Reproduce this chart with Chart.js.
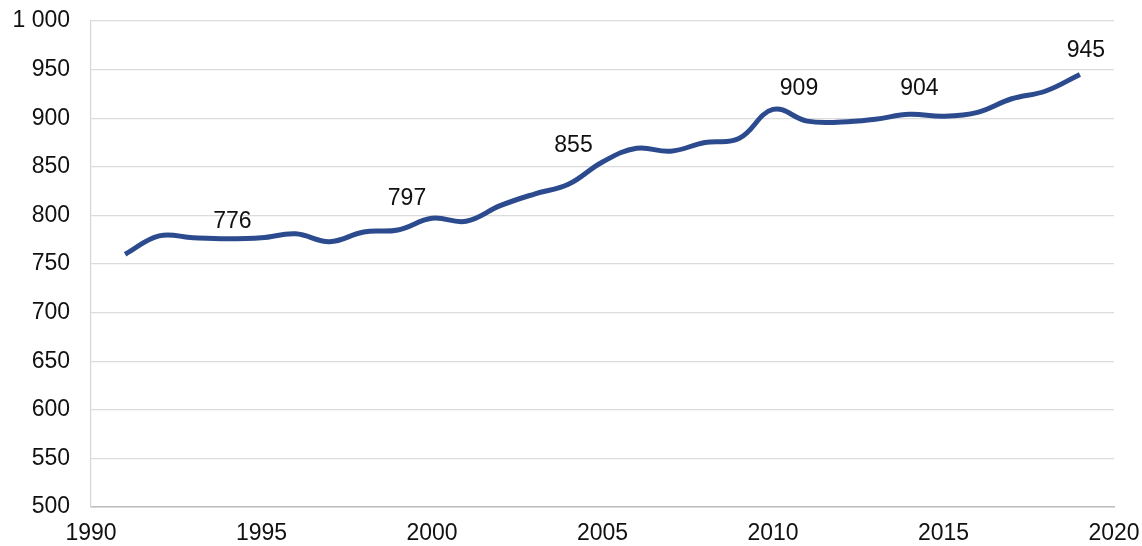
<!DOCTYPE html>
<html>
<head>
<meta charset="utf-8">
<script src="https://cdn.jsdelivr.net/npm/chart.js@4"></script>
<style>
  html, body { margin: 0; padding: 0; background: #ffffff; }
  #wrap { width: 1142px; height: 546px; position: relative; }
</style>
</head>
<body>
<div id="wrap"><canvas id="c"></canvas></div>
<script>
// Data
const years = [1991, 1992, 1993, 1994, 1995, 1996, 1997, 1998, 1999, 2000,
               2001, 2002, 2003, 2004, 2005, 2006, 2007, 2008, 2009, 2010,
               2011, 2012, 2013, 2014, 2015, 2016, 2017, 2018, 2019];
const values = [760, 779, 777, 776, 777, 781, 773, 783, 785, 797,
                794, 810, 822, 832, 855, 869, 866, 875, 879, 909,
                897, 896, 899, 904, 902, 906, 920, 928, 945];
const labelledYears = [1994, 2000, 2005, 2010, 2014, 2019];
const xTicks = [1990, 1995, 2000, 2005, 2010, 2015, 2020];
const yTicks = [500, 550, 600, 650, 700, 750, 800, 850, 900, 950, 1000];

const points = years.map((y, i) => ({ x: y, y: values[i] }));

function fmtThousands(v) {
  const s = String(Math.round(v));
  return s.replace(/\B(?=(\d{3})+(?!\d))/g, ' ');
}

const FONT = "'Liberation Sans', Arial, sans-serif";

const valueLabels = {
  id: 'valueLabels',
  afterDatasetsDraw(chart, args, opts) {
    const ctx = chart.ctx;
    const meta = chart.getDatasetMeta(0);
    ctx.save();
    ctx.font = '23px ' + FONT;
    ctx.fillStyle = '#111111';
    ctx.textAlign = 'center';
    ctx.textBaseline = 'alphabetic';
    labelledYears.forEach((yr) => {
      const idx = years.indexOf(yr);
      const el = meta.data[idx];
      const dx = (opts.dx && opts.dx[yr]) || 0;
      const dy = (opts.dy && opts.dy[yr]) || -12;
      ctx.fillText(String(values[idx]), el.x + dx, el.y + dy);
    });
    ctx.restore();
  }
};

new Chart(document.getElementById('c'), {
  type: 'line',
  data: {
    datasets: [{
      data: points,
      borderColor: '#2c4b8e',
      borderWidth: 5,
      pointRadius: 0,
      tension: 0.4,
      fill: false
    }]
  },
  options: {
    responsive: true,
    maintainAspectRatio: false,
    animation: false,
    layout: { padding: { left: 0, right: 28, top: 21, bottom: 0 } },
    plugins: {
      legend: { display: false },
      tooltip: { enabled: false },
      valueLabels: {
        dx: { 1994: 5, 2000: -25, 2005: -29, 2010: 26, 2014: 10, 2019: 6 },
        dy: { 1994: -11, 2000: -13, 2005: -10, 2010: -14, 2014: -19, 2019: -17 }
      }
    },
    scales: {
      x: {
        type: 'linear',
        min: 1990,
        max: 2020,
        afterBuildTicks: (s) => { s.ticks = xTicks.map(v => ({ value: v })); },
        ticks: {
          callback: (v) => String(v),
          color: '#111111',
          font: { family: FONT, size: 23 },
          padding: 13,
          maxRotation: 0
        },
        grid: { display: false, drawTicks: false },
        border: { display: true, color: '#bdbdbd', width: 1.5 },
        afterFit: (s) => { s.height = 39; s.paddingLeft = 0; s.paddingRight = 0; }
      },
      y: {
        min: 500,
        max: 1000,
        afterBuildTicks: (s) => { s.ticks = yTicks.map(v => ({ value: v })); },
        ticks: {
          callback: (v) => fmtThousands(v),
          color: '#111111',
          font: { family: FONT, size: 23 },
          padding: 21
        },
        grid: { color: '#dcdcdc', lineWidth: 1.2, drawTicks: false },
        border: { display: true, color: '#d6d6d6', width: 1.2 },
        afterFit: (s) => { s.width = 91; s.paddingTop = 0; s.paddingBottom = 0; }
      }
    }
  },
  plugins: [valueLabels]
});
</script>
</body>
</html>
